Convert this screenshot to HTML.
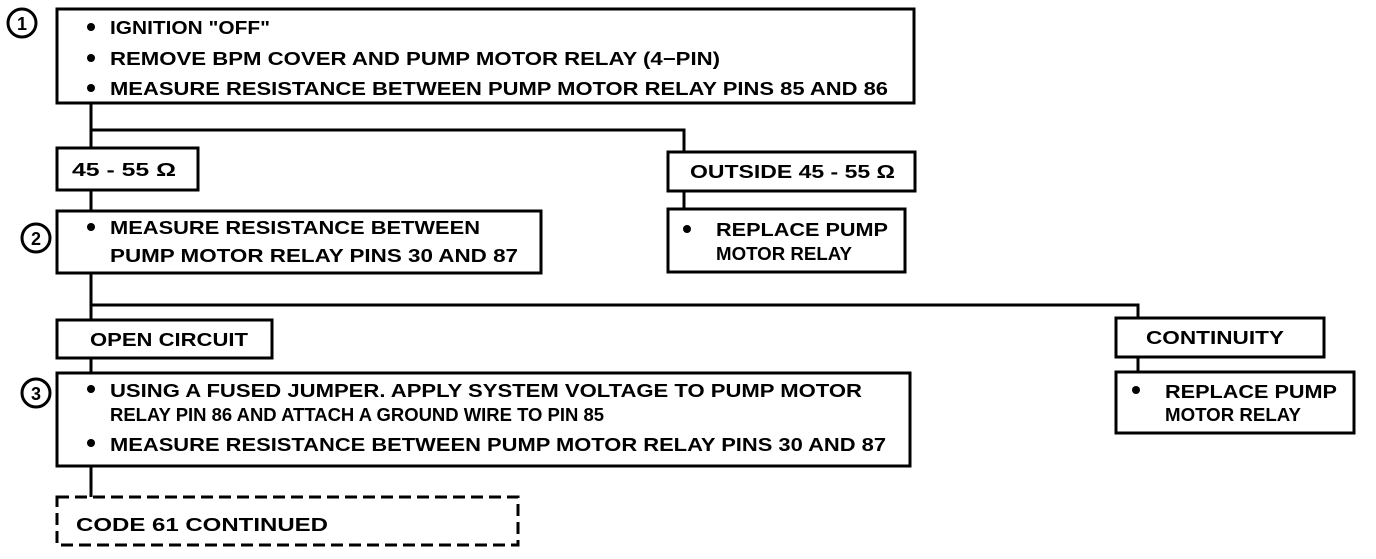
<!DOCTYPE html>
<html><head><meta charset="utf-8"><style>
html,body{margin:0;padding:0;background:#fff;}
svg text{font-family:"Liberation Sans",sans-serif;font-weight:bold;font-size:18px;fill:#000;}
</style></head><body>
<svg width="1376" height="554" viewBox="0 0 1376 554" xmlns="http://www.w3.org/2000/svg">
<g fill="none" stroke="#000" stroke-width="3">
<!-- connectors -->
<path d="M91 103 V497"/>
<path d="M91 130 H684 V152"/>
<path d="M684 191 V209"/>
<path d="M91 305 H1138 V318"/>
<path d="M1138 357 V372"/>
<!-- boxes -->
<rect x="57" y="9" width="857" height="94" fill="#fff"/>
<rect x="57" y="148" width="141" height="42" fill="#fff"/>
<rect x="668" y="152" width="247" height="39" fill="#fff"/>
<rect x="57" y="211" width="484" height="62" fill="#fff"/>
<rect x="668" y="209" width="237" height="63" fill="#fff"/>
<rect x="57" y="320" width="215" height="38" fill="#fff"/>
<rect x="57" y="373" width="853" height="93" fill="#fff"/>
<rect x="1116" y="318" width="208" height="39" fill="#fff"/>
<rect x="1116" y="372" width="238" height="61" fill="#fff"/>
<rect x="57" y="497" width="461" height="48" fill="#fff" stroke-dasharray="12,6"/>
<!-- circles -->
<circle cx="22" cy="23" r="14" fill="#fff"/>
<circle cx="36" cy="238" r="14" fill="#fff"/>
<circle cx="36" cy="393" r="14" fill="#fff"/>
</g>
<text x="17" y="30">1</text>
<text x="31" y="245">2</text>
<text x="31" y="400">3</text>
<g fill="#000">
<circle cx="91" cy="27" r="4"/><circle cx="91" cy="58" r="4"/><circle cx="91" cy="88" r="4"/>
<circle cx="91" cy="227" r="4"/>
<circle cx="91" cy="389" r="4"/><circle cx="91" cy="443" r="4"/>
<circle cx="687" cy="229" r="4"/>
<circle cx="1136" cy="390" r="4"/>
</g>
<text x="110" y="34" textLength="160" lengthAdjust="spacingAndGlyphs">IGNITION "OFF"</text>
<text x="110" y="65" textLength="610" lengthAdjust="spacingAndGlyphs">REMOVE BPM COVER AND PUMP MOTOR RELAY (4−PIN)</text>
<text x="110" y="95" textLength="778" lengthAdjust="spacingAndGlyphs">MEASURE RESISTANCE BETWEEN PUMP MOTOR RELAY PINS 85 AND 86</text>
<text x="72" y="176" textLength="104" lengthAdjust="spacingAndGlyphs">45 - 55 Ω</text>
<text x="690" y="178" textLength="205" lengthAdjust="spacingAndGlyphs">OUTSIDE 45 - 55 Ω</text>
<text x="110" y="234" textLength="370" lengthAdjust="spacingAndGlyphs">MEASURE RESISTANCE BETWEEN</text>
<text x="110" y="262" textLength="408" lengthAdjust="spacingAndGlyphs">PUMP MOTOR RELAY PINS 30 AND 87</text>
<text x="716" y="236" textLength="172" lengthAdjust="spacingAndGlyphs">REPLACE PUMP</text>
<text x="716" y="260" textLength="136" lengthAdjust="spacingAndGlyphs">MOTOR RELAY</text>
<text x="90" y="346" textLength="158" lengthAdjust="spacingAndGlyphs">OPEN CIRCUIT</text>
<text x="110" y="397" textLength="752" lengthAdjust="spacingAndGlyphs">USING A FUSED JUMPER. APPLY SYSTEM VOLTAGE TO PUMP MOTOR</text>
<text x="110" y="421" textLength="494" lengthAdjust="spacingAndGlyphs">RELAY PIN 86  AND ATTACH A GROUND WIRE TO PIN 85</text>
<text x="110" y="451" textLength="776" lengthAdjust="spacingAndGlyphs">MEASURE RESISTANCE BETWEEN PUMP MOTOR RELAY PINS 30 AND 87</text>
<text x="1146" y="344" textLength="138" lengthAdjust="spacingAndGlyphs">CONTINUITY</text>
<text x="1165" y="398" textLength="172" lengthAdjust="spacingAndGlyphs">REPLACE PUMP</text>
<text x="1165" y="421" textLength="136" lengthAdjust="spacingAndGlyphs">MOTOR RELAY</text>
<text x="76" y="531" textLength="252" lengthAdjust="spacingAndGlyphs">CODE 61  CONTINUED</text>
</svg>
</body></html>
